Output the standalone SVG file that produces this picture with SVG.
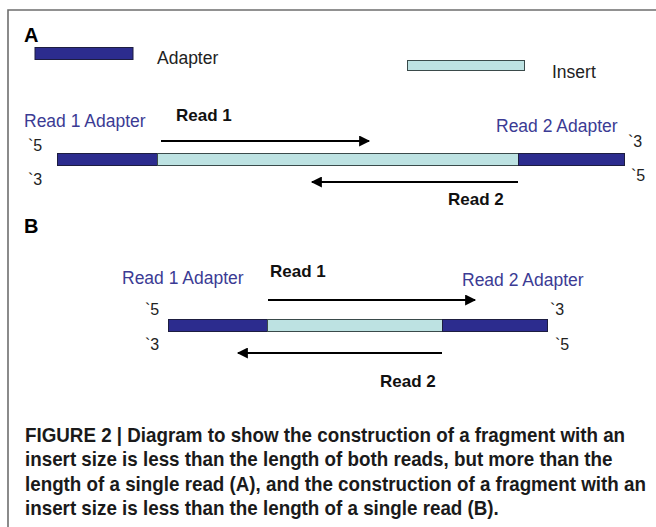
<svg xmlns="http://www.w3.org/2000/svg" width="656" height="527" viewBox="0 0 656 527">
  <style>
    .lbl { font-family: "Liberation Sans", Arial, sans-serif; font-size: 17.5px; fill: #222; }
    .adp { font-family: "Liberation Sans", Arial, sans-serif; font-size: 17.5px; fill: #3b3b94; }
    .rd { font-family: "Liberation Sans", Arial, sans-serif; font-size: 17px; font-weight: bold; fill: #111; }
    .end { font-family: "Liberation Sans", Arial, sans-serif; font-size: 16px; fill: #222; }
    .panel { font-family: "Liberation Sans", Arial, sans-serif; font-size: 20px; font-weight: bold; fill: #000; }
    .cap { font-family: "Liberation Sans", Arial, sans-serif; font-size: 20px; font-weight: bold; fill: #1a1a1a; }
    .dark { fill: #2c2c8e; stroke: #1d1d40; stroke-width: 1; }
    .light { fill: #bde2e2; stroke: #3a4a4a; stroke-width: 1; }
    .arrow { stroke: #000; stroke-width: 2; fill: none; marker-end: url(#head); }
  </style>
  <defs>
    <marker id="head" viewBox="0 0 10 10" refX="9" refY="5" markerWidth="6.5" markerHeight="5.5" markerUnits="strokeWidth" orient="auto">
      <path d="M0,0 L10,5 L0,10 z" fill="#000"/>
    </marker>
  </defs>

  <rect width="656" height="527" fill="#fff"/>
  <!-- frame -->
  <path d="M8,527 L8,10 L656,10" fill="none" stroke="#6e6e6e" stroke-width="1.6"/>

  <!-- panel A -->
  <text class="panel" x="24" y="42">A</text>

  <g id="legend-adapter">
    <rect class="dark" x="35" y="47.5" width="98" height="12"/>
    <text class="lbl" x="157" y="64">Adapter</text>
  </g>
  <g id="legend-insert">
    <rect class="light" x="407.5" y="60.5" width="117" height="10"/>
    <text class="lbl" x="552" y="78">Insert</text>
  </g>

  <g id="a-fragment">
    <rect class="dark" x="57.5" y="153.5" width="100" height="12"/>
    <rect class="light" x="157.5" y="153.5" width="361" height="12"/>
    <rect class="dark" x="518.5" y="153.5" width="106" height="12"/>
  </g>
  <g id="a-labels">
    <text class="adp" x="24" y="127">Read 1 Adapter</text>
    <text class="adp" x="496" y="132">Read 2 Adapter</text>
    <text class="end" x="28" y="151">`5</text>
    <text class="end" x="28" y="185">`3</text>
    <text class="end" x="628" y="147">`3</text>
    <text class="end" x="631" y="181">`5</text>
    <text class="rd" x="176" y="121">Read 1</text>
    <text class="rd" x="448" y="205">Read 2</text>
  </g>

  <!-- panel B -->
  <text class="panel" x="24" y="233">B</text>

  <g id="b-fragment">
    <rect class="dark" x="168.5" y="319.5" width="99" height="12"/>
    <rect class="light" x="267.5" y="319.5" width="175" height="12"/>
    <rect class="dark" x="442.5" y="319.5" width="105" height="12"/>
  </g>
  <g id="b-labels">
    <text class="adp" x="122" y="284">Read 1 Adapter</text>
    <text class="adp" x="462" y="286">Read 2 Adapter</text>
    <text class="end" x="145" y="315">`5</text>
    <text class="end" x="145" y="350">`3</text>
    <text class="end" x="550" y="315">`3</text>
    <text class="end" x="555" y="350">`5</text>
    <text class="rd" x="270" y="277">Read 1</text>
    <text class="rd" x="380" y="387">Read 2</text>
  </g>

  <g id="connectors">
    <line class="arrow" x1="161" y1="141" x2="369" y2="141"/>
    <line class="arrow" x1="518" y1="182" x2="312" y2="182"/>
    <line class="arrow" x1="268" y1="300" x2="475" y2="300"/>
    <line class="arrow" x1="442" y1="353" x2="238" y2="353"/>
  </g>

  <!-- caption, set in a horizontally condensed bold face -->
  <g id="caption" transform="translate(25,0) scale(0.94,1)">
    <text class="cap" x="0" y="442">FIGURE 2 | Diagram to show the construction of a fragment with an</text>
    <text class="cap" x="0" y="466.5">insert size is less than the length of both reads, but more than the</text>
    <text class="cap" x="0" y="491">length of a single read (A), and the construction of a fragment with an</text>
    <text class="cap" x="0" y="515.5">insert size is less than the length of a single read (B).</text>
  </g>
</svg>
